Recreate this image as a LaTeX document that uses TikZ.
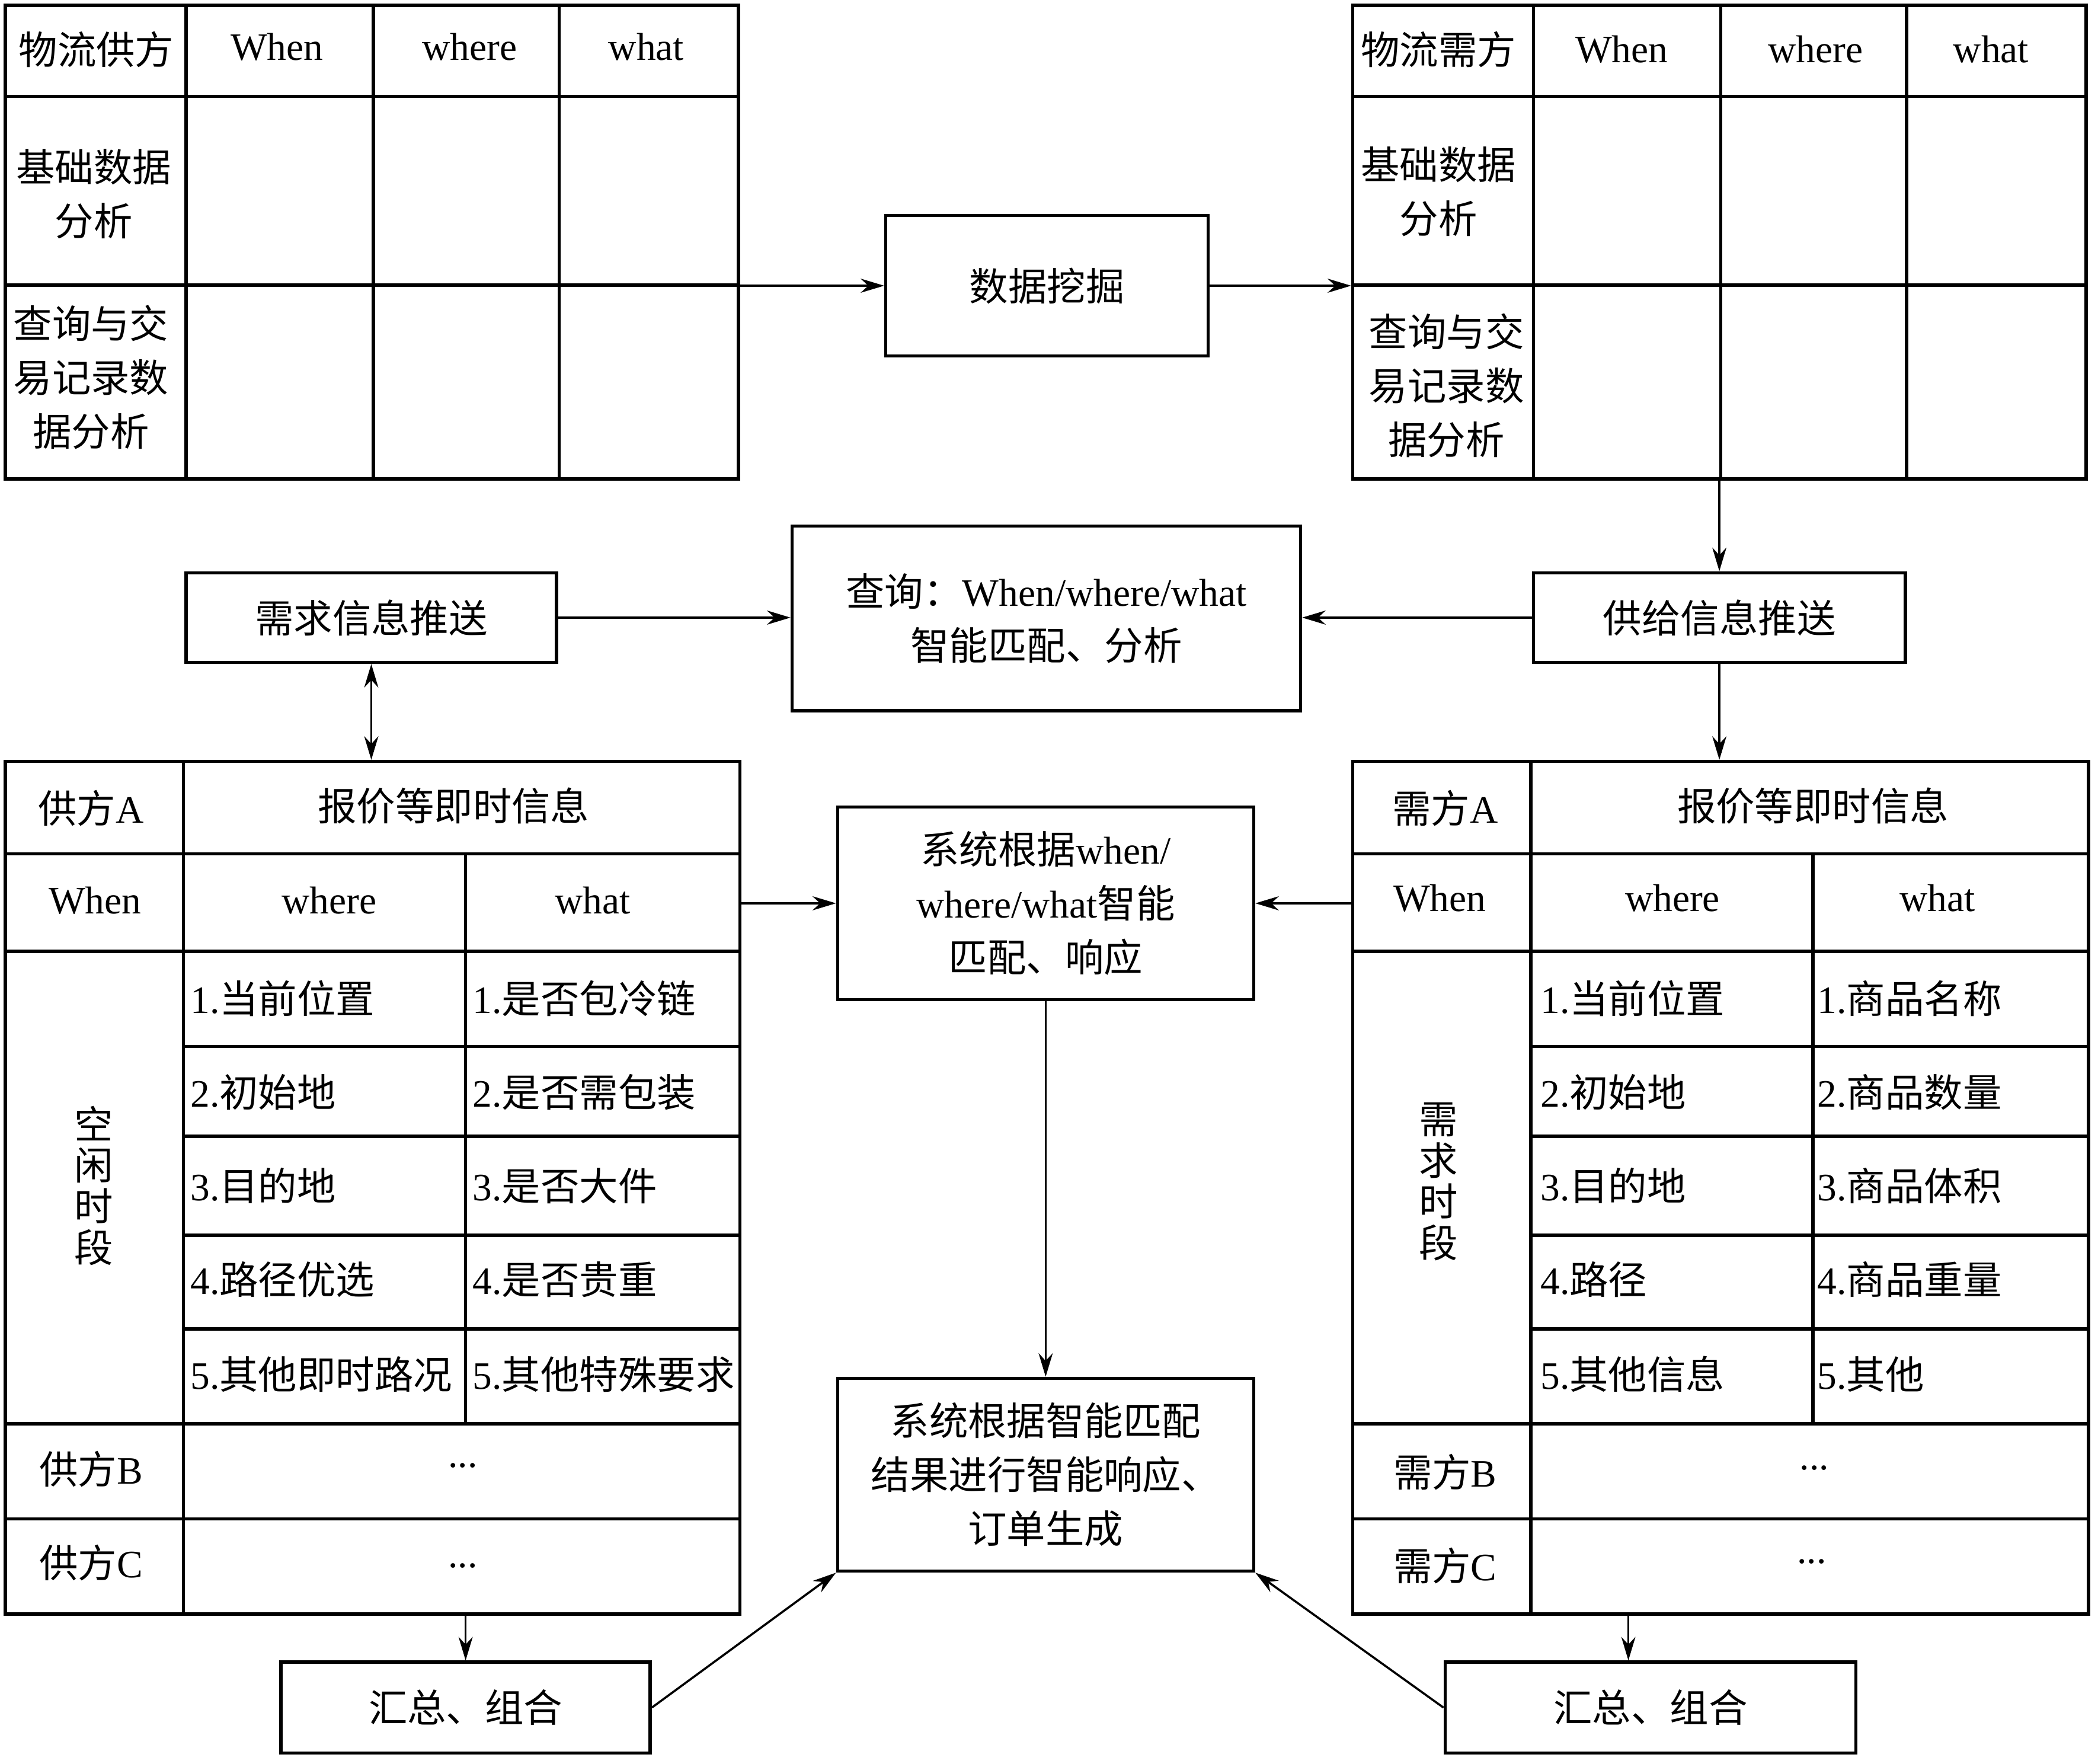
\documentclass[tikz,border=0pt]{standalone}
\usepackage{fontspec}
\setmainfont{Noto Sans CJK SC}
\newfontfamily\latfont{Liberation Serif}
\newcommand{\lat}[1]{{\latfont #1}}
\usetikzlibrary{fit,arrows.meta}

\tikzset{
	frame/.style={draw, line width=1.4pt, inner sep=0pt},
	rule/.style={line width=1.4pt},
	box/.style={draw, line width=1.4pt, inner sep=0pt, align=center, font=\fontsize{16.5}{23}\selectfont},
	conn/.style={draw, line width=0.9pt, -{Stealth[length=10pt,width=6pt]}},
	dconn/.style={draw, line width=0.9pt, {Stealth[length=10pt,width=6pt]}-{Stealth[length=10pt,width=6pt]}},
	txt/.style={font=\fontsize{16.5}{23}\selectfont, align=center, inner sep=0pt},
	item/.style={txt, anchor=west},
	vtxt/.style={font=\fontsize{16.5}{17.5}\selectfont, align=center, inner sep=0pt}
}

\begin{document}
\begin{tikzpicture}[x=0.02cm,y=-0.02cm]
		\useasboundingbox (0,0) rectangle (1568,1318);
		
		% upper tables
		\node[frame, fit={(4,4) (552,358)}] (supT) {};
		\node[frame, fit={(1011,4) (1559,358)}] (demT) {};
		\foreach \x in {139,279,418} \draw[rule] (\x,4) -- (\x,358);
		\foreach \x in {1146,1286,1425} \draw[rule] (\x,4) -- (\x,358);
		\foreach \y in {72,213} {
			\draw[rule] (4,\y) -- (552,\y);
			\draw[rule] (1011,\y) -- (1559,\y);
		}
		
		\node[txt] (supHd) at (72,37) {物流供方};
		\node[txt] (supWhen) at (207,35) {\lat{When}};
		\node[txt] (supWhere) at (351,35) {\lat{where}};
		\node[txt] (supWhat) at (483,35) {\lat{what}};
		\node[txt] (supBase) at (70,145) {基础数据\\分析};
		\node[txt] (supRec) at (68,282) {查询与交\\易记录数\\据分析};
		
		\node[txt] (demHd) at (1075,37) {物流需方};
		\node[txt] (demWhen) at (1212,37) {\lat{When}};
		\node[txt] (demWhere) at (1357,37) {\lat{where}};
		\node[txt] (demWhat) at (1488,37) {\lat{what}};
		\node[txt] (demBase) at (1075,143) {基础数据\\分析};
		\node[txt] (demRec) at (1081,288) {查询与交\\易记录数\\据分析};
		
		% middle boxes
		\node[box, minimum width=4.82cm, minimum height=2.10cm] (mine) at (782.5,213.5) {数据挖掘};
		\node[box, minimum width=7.60cm, minimum height=2.76cm] (query) at (782,462) {查询：\lat{When/where/what}\\智能匹配、分析};
		\node[box, minimum width=5.54cm, minimum height=1.34cm] (demPush) at (277.5,461.5) {需求信息推送};
		\node[box, minimum width=5.56cm, minimum height=1.34cm] (supPush) at (1285,461.5) {供给信息推送};
		\node[box, minimum width=6.22cm, minimum height=2.88cm] (match) at (781.5,675) {系统根据\lat{when/}\\\lat{where/what}智能\\匹配、响应};
		\node[box, minimum width=6.22cm, minimum height=2.88cm] (order) at (781.5,1102) {系统根据智能匹配\\结果进行智能响应、\\订单生成};
		\node[box, minimum width=5.52cm, minimum height=1.36cm] (sumL) at (348,1276) {汇总、组合};
		\node[box, minimum width=6.14cm, minimum height=1.36cm] (sumR) at (1233.5,1276) {汇总、组合};
		
		% lower tables
		\node[frame, fit={(4,569) (553,1206)}] (supL) {};
		\node[frame, fit={(1011,569) (1561,1206)}] (demL) {};
		\draw[rule] (137,569) -- (137,1206);
		\draw[rule] (348,638) -- (348,1064);
		\draw[rule] (1144,569) -- (1144,1206);
		\draw[rule] (1355,638) -- (1355,1064);
		\foreach \y in {638,711,1064,1135} {
			\draw[rule] (4,\y) -- (553,\y);
			\draw[rule] (1011,\y) -- (1561,\y);
		}
		\foreach \y in {782,849,923,993} {
			\draw[rule] (137,\y) -- (553,\y);
			\draw[rule] (1144,\y) -- (1561,\y);
		}
		
		\node[txt] (supA) at (68,604) {供方\lat{A}};
		\node[txt] (supInfo) at (339,602) {报价等即时信息};
		\node[txt] (supWhen2) at (71,673) {\lat{When}};
		\node[txt] (supWhere2) at (246,673) {\lat{where}};
		\node[txt] (supWhat2) at (443,673) {\lat{what}};
		\node[vtxt] (supIdle) at (70,886) {空\\闲\\时\\段};
		\node[item] (supW1) at (142,746) {\lat{1.}当前位置};
		\node[item] (supW2) at (142,816) {\lat{2.}初始地};
		\node[item] (supW3) at (142,886) {\lat{3.}目的地};
		\node[item] (supW4) at (142,956) {\lat{4.}路径优选};
		\node[item] (supW5) at (142,1027) {\lat{5.}其他即时路况};
		\node[item] (supH1) at (353,746) {\lat{1.}是否包冷链};
		\node[item] (supH2) at (353,816) {\lat{2.}是否需包装};
		\node[item] (supH3) at (353,886) {\lat{3.}是否大件};
		\node[item] (supH4) at (353,956) {\lat{4.}是否贵重};
		\node[item] (supH5) at (353,1027) {\lat{5.}其他特殊要求};
		\node[txt] (supB) at (68,1098) {供方\lat{B}};
		\node[txt] (supBdot) at (346,1095) {\lat{...}};
		\node[txt] (supC) at (68,1168) {供方\lat{C}};
		\node[txt] (supCdot) at (346,1170) {\lat{...}};
		
		\node[txt] (demA) at (1080,604) {需方\lat{A}};
		\node[txt] (demInfo) at (1355,602) {报价等即时信息};
		\node[txt] (demWhen2) at (1076,671) {\lat{When}};
		\node[txt] (demWhere2) at (1250,671) {\lat{where}};
		\node[txt] (demWhat2) at (1448,671) {\lat{what}};
		\node[vtxt] (demNeed) at (1075,883) {需\\求\\时\\段};
		\node[item] (demW1) at (1151,746) {\lat{1.}当前位置};
		\node[item] (demW2) at (1151,816) {\lat{2.}初始地};
		\node[item] (demW3) at (1151,886) {\lat{3.}目的地};
		\node[item] (demW4) at (1151,956) {\lat{4.}路径};
		\node[item] (demW5) at (1151,1027) {\lat{5.}其他信息};
		\node[item] (demH1) at (1358,746) {\lat{1.}商品名称};
		\node[item] (demH2) at (1358,816) {\lat{2.}商品数量};
		\node[item] (demH3) at (1358,886) {\lat{3.}商品体积};
		\node[item] (demH4) at (1358,956) {\lat{4.}商品重量};
		\node[item] (demH5) at (1358,1027) {\lat{5.}其他};
		\node[txt] (demB) at (1080,1100) {需方\lat{B}};
		\node[txt] (demBdot) at (1356,1097) {\lat{...}};
		\node[txt] (demC) at (1080,1170) {需方\lat{C}};
		\node[txt] (demCdot) at (1354,1167) {\lat{...}};
		
		% connectors
		\draw[conn] (supT.east |- mine.west) -- (mine.west);
		\draw[conn] (mine.east) -- (mine.east -| demT.west);
		\draw[conn] (demT.south) -- (supPush.north);
		\draw[conn] (supPush.south) -- (supPush.south |- demL.north);
		\draw[dconn] (demPush.south) -- (demPush.south |- supL.north);
		\draw[conn] (demPush.east) -- (demPush.east -| query.west);
		\draw[conn] (supPush.west) -- (supPush.west -| query.east);
		\draw[conn] (supL.east |- match.west) -- (match.west);
		\draw[conn] (demL.west |- match.east) -- (match.east);
		\draw[conn] (match.south) -- (order.north);
		\draw[conn] (supL.south -| sumL.north) -- (sumL.north);
		\coordinate (demOut) at (1217,1206);
		\draw[conn] (demOut) -- (demOut |- sumR.north);
		\draw[conn] (sumL.east) -- (order.south west);
		\draw[conn] (sumR.west) -- (order.south east);
		
	\end{tikzpicture}
\end{document}
